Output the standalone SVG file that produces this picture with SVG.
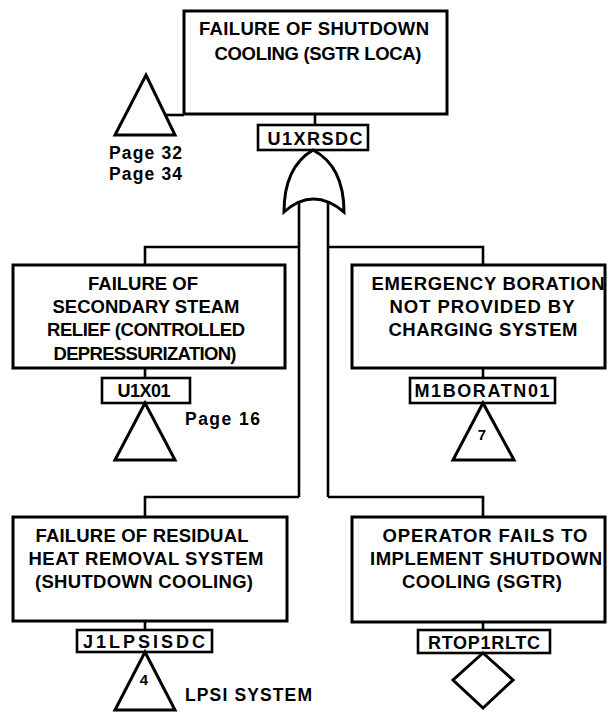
<svg xmlns="http://www.w3.org/2000/svg" width="608" height="712" viewBox="0 0 608 712">
  <style>
    .box { fill: #fff; stroke: #000; stroke-width: 3; }
    .tag { fill: #fff; stroke: #000; stroke-width: 2.6; }
    .sym { fill: #fff; stroke: #000; stroke-width: 3; stroke-linejoin: miter; }
    .wire { fill: none; stroke: #000; stroke-width: 2.6; }
    text { font-family: "Liberation Sans", Arial, sans-serif; font-weight: bold; fill: #000; }
    .t { font-size: 18.5px; text-anchor: middle; }
    .id { font-size: 18px; text-anchor: middle; }
    .note { font-size: 17.5px; }
    .num { font-size: 15px; text-anchor: middle; }
  </style>

  <!-- connectors -->
  <g id="connectors">
    <line class="wire" x1="166" y1="115" x2="184" y2="115"/>
    <line class="wire" x1="315" y1="114" x2="315" y2="125"/>
    <polyline class="wire" points="299,202 299,497"/>
    <polyline class="wire" points="328,202 328,497"/>
    <polyline class="wire" points="299,247 145,247 145,265"/>
    <polyline class="wire" points="328,247 483,247 483,265"/>
    <polyline class="wire" points="299,497 145,497 145,517"/>
    <polyline class="wire" points="328,497 483,497 483,517"/>
    <line class="wire" x1="145" y1="368" x2="145" y2="378"/>
    <line class="wire" x1="483" y1="368" x2="483" y2="378"/>
    <line class="wire" x1="145" y1="621" x2="145" y2="630"/>
    <line class="wire" x1="483" y1="622" x2="483" y2="630"/>
  </g>

  <!-- top event with OR gate -->
  <g id="top-event">
    <polygon class="sym" points="146,75 175,135 115,135"/>
    <text class="note" x="109" y="159" textLength="73" lengthAdjust="spacing">Page 32</text>
    <text class="note" x="109" y="180" textLength="73" lengthAdjust="spacing">Page 34</text>
    <rect class="box" x="184" y="11" width="263" height="103"/>
    <text class="t" x="314" y="35" textLength="230" lengthAdjust="spacing">FAILURE OF SHUTDOWN</text>
    <text class="t" x="318" y="60" textLength="207" lengthAdjust="spacing">COOLING (SGTR LOCA)</text>
    <rect class="tag" x="258" y="125" width="110" height="25"/>
    <text class="id" x="315" y="145" textLength="95" lengthAdjust="spacing">U1XRSDC</text>
    <path class="sym" d="M313,150 C296,160 284,178 284,212 Q313,186 344,212 C344,178 332,160 313,150 Z"/>
  </g>

  <!-- secondary steam relief -->
  <g id="u1x01">
    <rect class="box" x="13" y="265" width="272" height="103"/>
    <text class="t" x="143" y="290" textLength="110" lengthAdjust="spacing">FAILURE OF</text>
    <text class="t" x="146" y="313" textLength="187" lengthAdjust="spacing">SECONDARY STEAM</text>
    <text class="t" x="146" y="336" textLength="198" lengthAdjust="spacing">RELIEF (CONTROLLED</text>
    <text class="t" x="145" y="360" textLength="183" lengthAdjust="spacing">DEPRESSURIZATION)</text>
    <rect class="tag" x="102" y="378" width="88" height="25"/>
    <text class="id" x="144" y="397" textLength="53" lengthAdjust="spacing">U1X01</text>
    <polygon class="sym" points="145,403 175,460 115,460"/>
    <text class="note" x="185" y="425" textLength="75" lengthAdjust="spacing">Page 16</text>
  </g>

  <!-- emergency boration -->
  <g id="m1boratn01">
    <rect class="box" x="352" y="265" width="253" height="103"/>
    <text class="t" x="488" y="290" textLength="233" lengthAdjust="spacing">EMERGENCY BORATION</text>
    <text class="t" x="482" y="313" textLength="185" lengthAdjust="spacing">NOT PROVIDED BY</text>
    <text class="t" x="483" y="336" textLength="189" lengthAdjust="spacing">CHARGING SYSTEM</text>
    <rect class="tag" x="410" y="378" width="145" height="25"/>
    <text class="id" x="482" y="397" textLength="135" lengthAdjust="spacing">M1BORATN01</text>
    <polygon class="sym" points="483,403 514,460 453,460"/>
    <text class="num" x="482" y="440">7</text>
  </g>

  <!-- residual heat removal -->
  <g id="j1lpsisdc">
    <rect class="box" x="13" y="517" width="274" height="104"/>
    <text class="t" x="142" y="542" textLength="213" lengthAdjust="spacing">FAILURE OF RESIDUAL</text>
    <text class="t" x="146" y="565" textLength="235" lengthAdjust="spacing">HEAT REMOVAL SYSTEM</text>
    <text class="t" x="144" y="588" textLength="218" lengthAdjust="spacing">(SHUTDOWN COOLING)</text>
    <rect class="tag" x="77" y="630" width="135" height="22"/>
    <text class="id" x="144" y="648" textLength="122" lengthAdjust="spacing">J1LPSISDC</text>
    <polygon class="sym" points="145,652 175,710 115,710"/>
    <text class="num" x="144" y="685">4</text>
    <text class="note" x="185" y="701" textLength="127" lengthAdjust="spacing">LPSI SYSTEM</text>
  </g>

  <!-- operator action -->
  <g id="rtop1rltc">
    <rect class="box" x="352" y="517" width="253" height="105"/>
    <text class="t" x="485" y="542" textLength="205" lengthAdjust="spacing">OPERATOR FAILS TO</text>
    <text class="t" x="486" y="565" textLength="232" lengthAdjust="spacing">IMPLEMENT SHUTDOWN</text>
    <text class="t" x="482" y="588" textLength="160" lengthAdjust="spacing">COOLING (SGTR)</text>
    <rect class="tag" x="418" y="630" width="132" height="23"/>
    <text class="id" x="484" y="649" textLength="112" lengthAdjust="spacing">RTOP1RLTC</text>
    <polygon class="sym" points="483,653 513,680 483,708 453,680"/>
  </g>
</svg>
